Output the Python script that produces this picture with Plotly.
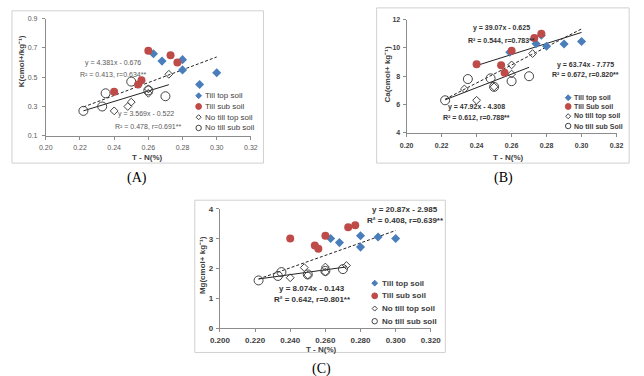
import plotly.graph_objects as go

# ---------------- Data ----------------
# Panel A : K
A_till_top_x = [0.263, 0.268, 0.280, 0.280, 0.290, 0.300]
A_till_top_y = [0.66, 0.61, 0.62, 0.55, 0.45, 0.53]
A_till_sub_x = [0.240, 0.254, 0.256, 0.260, 0.273, 0.277]
A_till_sub_y = [0.40, 0.45, 0.48, 0.68, 0.65, 0.60]
A_nt_top_x = [0.240, 0.248, 0.250, 0.260, 0.260, 0.272]
A_nt_top_y = [0.27, 0.30, 0.33, 0.42, 0.39, 0.52]
A_nt_sub_x = [0.222, 0.233, 0.235, 0.250, 0.260, 0.270]
A_nt_sub_y = [0.27, 0.30, 0.39, 0.47, 0.41, 0.37]
A_fits = [  # slope, intercept, x0, x1, dash
    (4.381, -0.676, 0.222, 0.300, "dash"),
    (3.569, -0.522, 0.222, 0.272, "solid"),
]

# Panel B : Ca
B_till_top_x = [0.259, 0.274, 0.280, 0.290, 0.300, 0.277]
B_till_top_y = [9.70, 10.30, 10.12, 10.28, 10.45, 10.90]
B_till_sub_x = [0.240, 0.254, 0.256, 0.260, 0.273, 0.277]
B_till_sub_y = [8.85, 8.78, 8.25, 9.80, 10.70, 11.00]
B_nt_top_x = [0.233, 0.240, 0.250, 0.260, 0.260, 0.272]
B_nt_top_y = [7.10, 6.30, 7.25, 8.80, 8.15, 9.60]
B_nt_sub_x = [0.222, 0.235, 0.248, 0.250, 0.260, 0.270]
B_nt_sub_y = [6.30, 7.80, 7.85, 7.25, 7.65, 8.00]
B_fits = [
    (39.07, -0.625, 0.240, 0.300, "solid"),
    (63.74, -7.775, 0.222, 0.300, "dash"),
    (47.92, -4.308, 0.222, 0.270, "solid"),
]

# Panel C : Mg
C_till_top_x = [0.263, 0.268, 0.280, 0.280, 0.290, 0.300]
C_till_top_y = [3.01, 2.87, 3.10, 2.72, 3.06, 3.01]
C_till_sub_x = [0.240, 0.254, 0.256, 0.260, 0.273, 0.277]
C_till_sub_y = [3.01, 2.77, 2.66, 3.10, 3.39, 3.45]
C_nt_top_x = [0.240, 0.248, 0.250, 0.260, 0.260, 0.272]
C_nt_top_y = [1.69, 2.03, 1.78, 2.05, 1.88, 2.10]
C_nt_sub_x = [0.222, 0.233, 0.235, 0.250, 0.260, 0.270]
C_nt_sub_y = [1.60, 1.75, 1.88, 1.80, 1.92, 1.98]
C_fits = [
    (20.87, -2.985, 0.222, 0.300, "dash"),
    (8.074, -0.143, 0.222, 0.272, "solid"),
]

A_eq = ["y = 4.381x - 0.676", "R² = 0.413, r=0.634**",
        "y = 3.569x - 0.522", "R² = 0.478, r=0.691**"]
B_eq = ["y = 39.07x - 0.625", "R² = 0.544, r=0.783**",
        "y = 63.74x - 7.775", "R² = 0.672, r=0.820**",
        "y = 47.92x - 4.308", "R² = 0.612, r=0.788**"]
C_eq = ["y = 20.87x - 2.985", "R² = 0.408, r=0.639**",
        "y = 8.074x - 0.143", "R² = 0.642, r=0.801**"]
A_legend = ["Till top soil", "Till sub soil", "No till top soil", "No till sub soil"]
B_legend = ["Till top soil", "Till Sub soil", "No till top soil", "No till sub Soil"]
C_legend = ["Till top soil", "Till sub soil", "No till top soil", "No till sub soil"]

# ---------------- Layout helpers ----------------
W, H = 644, 376
def px(x): return x / W
def py(y): return 1 - y / H

BLUE = "#4a7ebb"
RED = "#be4b48"
GREY = "#444444"
FONT = "Liberation Sans, Arial, sans-serif"

fig = go.Figure()

def add_panel(n, tt, ts, nt, ns, fits):
    xa = "x" if n == 1 else f"x{n}"
    ya = "y" if n == 1 else f"y{n}"
    for (s, b, x0, x1, d) in fits:
        fig.add_trace(go.Scatter(x=[x0, x1], y=[s * x0 + b, s * x1 + b], mode="lines",
                                 line=dict(color="#222", width=1, dash="3px,2px" if d == "dash" else "solid"),
                                 xaxis=xa, yaxis=ya, showlegend=False, hoverinfo="skip"))
    fig.add_trace(go.Scatter(x=ns[0], y=ns[1], mode="markers", xaxis=xa, yaxis=ya, showlegend=False,
                             marker=dict(symbol="circle-open", size=9, color=GREY, line=dict(width=1))))
    fig.add_trace(go.Scatter(x=nt[0], y=nt[1], mode="markers", xaxis=xa, yaxis=ya, showlegend=False,
                             marker=dict(symbol="diamond-open", size=6, color=GREY, line=dict(width=1))))
    fig.add_trace(go.Scatter(x=tt[0], y=tt[1], mode="markers", xaxis=xa, yaxis=ya, showlegend=False,
                             marker=dict(symbol="diamond", size=7, color=BLUE)))
    fig.add_trace(go.Scatter(x=ts[0], y=ts[1], mode="markers", xaxis=xa, yaxis=ya, showlegend=False,
                             marker=dict(symbol="circle", size=8, color=RED)))

add_panel(1, (A_till_top_x, A_till_top_y), (A_till_sub_x, A_till_sub_y),
          (A_nt_top_x, A_nt_top_y), (A_nt_sub_x, A_nt_sub_y), A_fits)
add_panel(2, (B_till_top_x, B_till_top_y), (B_till_sub_x, B_till_sub_y),
          (B_nt_top_x, B_nt_top_y), (B_nt_sub_x, B_nt_sub_y), B_fits)
add_panel(3, (C_till_top_x, C_till_top_y), (C_till_sub_x, C_till_sub_y),
          (C_nt_top_x, C_nt_top_y), (C_nt_sub_x, C_nt_sub_y), C_fits)

def axis(dom, rng, dtick, fmt, fsize, bold, anchor, standoff):
    return dict(domain=dom, range=rng, dtick=dtick, tick0=rng[0], tickformat=fmt, showgrid=False,
                zeroline=False, showline=True, linecolor="#8c8c8c", linewidth=1, ticks="outside",
                ticklen=3, tickcolor="#8c8c8c", anchor=anchor, ticklabelstandoff=standoff,
                tickfont=dict(family=FONT, size=fsize, color="#404040" if bold else "#595959",
                              weight="bold" if bold else "normal"))

fig.update_layout(
    width=W, height=H, margin=dict(l=0, r=0, t=0, b=0),
    paper_bgcolor="white", plot_bgcolor="white", showlegend=False,
    xaxis=axis([px(37), px(249)], [0.20, 0.32], 0.02, ".2f", 7, False, "y", 2),
    yaxis=axis([py(135), py(15)], [0.1, 0.9], 0.2, ".1f", 7, False, "x", 3),
    xaxis2=axis([px(410), px(627)], [0.20, 0.32], 0.02, ".2f", 7, True, "y2", 3),
    yaxis2=axis([py(132), py(16)], [4, 12], 2, "d", 7, True, "x2", 1),
    xaxis3=axis([px(217), px(435)], [0.20, 0.32], 0.02, ".3f", 8, True, "y3", 1),
    yaxis3=axis([py(332), py(210)], [0, 4], 1, "d", 8, True, "x3", 1),
)

shapes = []
for (x0, y0, x1, y1) in [(2, 7, 262, 163), (379, 4, 640, 163), (191, 201, 450, 357)]:
    shapes.append(dict(type="rect", xref="paper", yref="paper", x0=px(x0), x1=px(x1),
                       y0=py(y1), y1=py(y0), line=dict(color="#d0d0d0", width=1)))

ann = []
def text(x, y, t, size, bold=False, color="#404040", xanchor="left", angle=0, family=FONT):
    ann.append(dict(x=px(x), y=py(y), xref="paper", yref="paper", text=t, showarrow=False,
                    xanchor=xanchor, yanchor="middle", textangle=angle,
                    font=dict(family=family, size=size, color=color,
                              weight="bold" if bold else "normal")))

# equations
for t, (x, y) in zip(A_eq, [(75, 60), (70, 72), (110, 113), (106, 126)]):
    text(x, y, t, 7, False, "#595959")
for t, (x, y) in zip(B_eq, [(477, 25), (471, 38), (563, 62), (558, 73), (451, 106), (446, 117)]):
    text(x, y, t, 7, True, "#333")
for t, (x, y) in zip(C_eq, [(372, 211), (367, 222), (276, 291), (271, 303)]):
    text(x, y, t, 8, True, "#333")

# legend key markers drawn as small shapes
def diamond(cx, cy, r, fill, line):
    path = (f"M {px(cx)},{py(cy - r)} L {px(cx + r)},{py(cy)} "
            f"L {px(cx)},{py(cy + r)} L {px(cx - r)},{py(cy)} Z")
    shapes.append(dict(type="path", xref="paper", yref="paper", path=path,
                       fillcolor=fill, line=dict(color=line, width=1)))

def circle(cx, cy, r, fill, line):
    shapes.append(dict(type="circle", xref="paper", yref="paper",
                       x0=px(cx - r), x1=px(cx + r), y0=py(cy + r), y1=py(cy - r),
                       fillcolor=fill, line=dict(color=line, width=1)))

def legend(labels, mx, tx, ys, size, bold):
    diamond(mx, ys[0], 3, BLUE, BLUE)
    circle(mx, ys[1], 3, RED, RED)
    diamond(mx, ys[2], 2.6, "white", GREY)
    circle(mx, ys[3], 2.8, "white", GREY)
    for lab, y in zip(labels, ys):
        text(tx, y, lab, size, bold, "#404040")

legend(A_legend, 195, 199, [94, 105, 116, 127], 8, False)
legend(B_legend, 577, 581, [96, 105, 115, 125], 7, True)
legend(C_legend, 377, 382, [286, 299, 312, 325], 8, True)

# axis titles
text(12, 59, "K(cmol+/kg⁻¹)", 8, True, "#404040", "center", -90)
text(142, 157, "T - N(%)", 8, True, "#404040", "center")
text(390, 72, "Ca(cmol+ kg⁻¹)", 8, True, "#404040", "center", -90)
text(515, 157, "T - N(%)", 8, True, "#404040", "center")
text(199, 268, "Mg(cmol+ kg⁻¹)", 8, True, "#404040", "center", -90)
text(322, 354, "T - N(%)", 8, True, "#404040", "center")

# panel labels
SERIF = "Liberation Serif, Times New Roman, serif"
text(131, 178, "(A)", 14, False, "#000", "center", family=SERIF)
text(510, 178, "(B)", 14, False, "#000", "center", family=SERIF)
text(322, 374, "(C)", 14, False, "#000", "center", family=SERIF)

fig.update_layout(annotations=ann, shapes=shapes)
fig.write_html("out.html")
